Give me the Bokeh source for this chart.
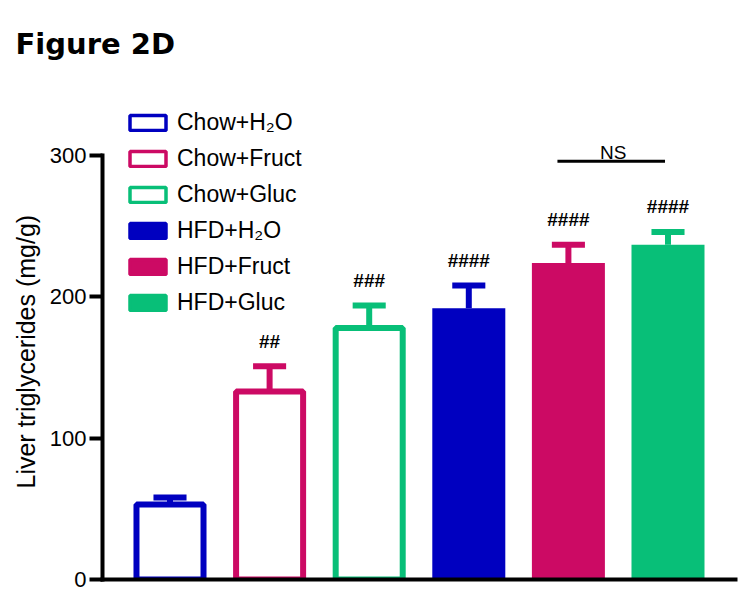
from bokeh.plotting import figure
from bokeh.models import Range1d, FixedTicker, Legend, LegendItem, Title
from bokeh.core.properties import value
from bokeh.embed import file_html
from bokeh.resources import INLINE

# ---- data ----
groups = ["Chow+H\u2082O", "Chow+Fruct", "Chow+Gluc", "HFD+H\u2082O", "HFD+Fruct", "HFD+Gluc"]
means = [53, 133, 178, 192, 224, 237]
sems = [5, 18, 16, 16, 13, 9]
colors = ["#0000C0", "#CC0A64", "#08BF78", "#0000C0", "#CC0A64", "#08BF78"]
hollow = [True, True, True, False, False, False]
sig_labels = ["", "##", "###", "####", "####", "####"]
y_ticks = [0, 100, 200, 300]
ns_pair = (4, 5)
ns_label = "NS"
title_text = "Figure 2D"
y_label = "Liver triglycerides (mg/g)"

FONT = "Liberation Sans"
xs = [i + 1 for i in range(len(groups))]
tops = [m + s for m, s in zip(means, sems)]

p = figure(width=745, height=600, output_backend="svg", toolbar_location=None,
           x_range=Range1d(0.3223, 6.748), y_range=Range1d(0, 363.8),
           min_border_left=102, min_border_right=3, min_border_top=65, min_border_bottom=21)
p.grid.visible = False
p.outline_line_color = None
p.background_fill_color = "white"
p.border_fill_color = "white"

p.title.text = title_text
p.title.text_font = "DejaVu Sans"
p.title.text_font_style = "bold"
p.title.text_font_size = "29px"
p.title.text_color = "black"
p.title.align = "left"
p.title.offset = -87

# bars
hx = [x for x, h in zip(xs, hollow) if h]
hm = [m for m, h in zip(means, hollow) if h]
hc = [c for c, h in zip(colors, hollow) if h]
fx = [x for x, h in zip(xs, hollow) if not h]
fm = [m for m, h in zip(means, hollow) if not h]
fc = [c for c, h in zip(colors, hollow) if not h]

# error bars (upper only)
p.segment(x0=xs, y0=means, x1=xs, y1=tops, line_color=colors, line_width=6)
p.segment(x0=[x - 0.166 for x in xs], y0=tops, x1=[x + 0.166 for x in xs], y1=tops,
          line_color=colors, line_width=6)

p.vbar(x=hx, top=hm, bottom=0, width=0.673, fill_color="white", line_color=hc, line_width=6)
p.vbar(x=fx, top=fm, bottom=0, width=0.733, fill_color=fc, line_color=None)

# significance marks
p.text(x=xs, y=tops, text=sig_labels, text_align="center", text_baseline="alphabetic",
       y_offset=-25, text_font=value(FONT), text_font_style="bold", text_font_size="19px",
       text_color="black")

# NS bracket
a, b = ns_pair
ns_y = max(tops[a], tops[b]) + 50
p.segment(x0=[xs[a] - 0.11], y0=[ns_y], x1=[xs[b] - 0.03], y1=[ns_y], line_color="black", line_width=3)
p.text(x=[(xs[a] + xs[b]) / 2 - 0.05], y=[ns_y], text=[ns_label], text_align="center",
       text_baseline="alphabetic", y_offset=-9, text_font=value(FONT), text_font_size="19px",
       text_color="black")

# axes
yax = p.yaxis[0]
yax.ticker = FixedTicker(ticks=y_ticks)
yax.bounds = (0, 300)
yax.axis_line_width = 4
yax.axis_line_cap = "square"
yax.major_tick_line_width = 4
yax.major_tick_out = 13
yax.major_tick_in = 0
yax.minor_tick_line_color = None
yax.major_label_standoff = 3
yax.major_label_text_font = FONT
yax.major_label_text_font_size = "22px"
yax.major_label_text_color = "black"

xax = p.xaxis[0]
xax.ticker = FixedTicker(ticks=[])
xax.bounds = (0.3223, 6.678)
xax.axis_line_width = 4
xax.axis_line_cap = "square"
xax.major_tick_line_color = None
xax.minor_tick_line_color = None
xax.major_label_text_font_size = "0px"

ytitle = Title(text=y_label, align="left", offset=91, text_font=FONT, text_font_size="25px",
               text_font_style="normal", text_color="black", standoff=14)
p.add_layout(ytitle, "left")

# legend (proxy renderers, hidden)
items = []
for x, m, g, c, h in zip(xs, means, groups, colors, hollow):
    r = p.vbar(x=[x], top=[m], width=0.5, fill_color="white" if h else c, line_color=c,
               line_width=3.5, visible=False)
    items.append(LegendItem(label=g, renderers=[r]))
legend = Legend(items=items, location=(23, 263), glyph_width=45, glyph_height=19,
                label_standoff=7, spacing=9, label_height=27, padding=0, margin=0,
                border_line_color=None, background_fill_alpha=0,
                label_text_font=FONT, label_text_font_size="23px", label_text_color="black")
p.add_layout(legend)

open("out.html", "w").write(file_html(p, INLINE))
